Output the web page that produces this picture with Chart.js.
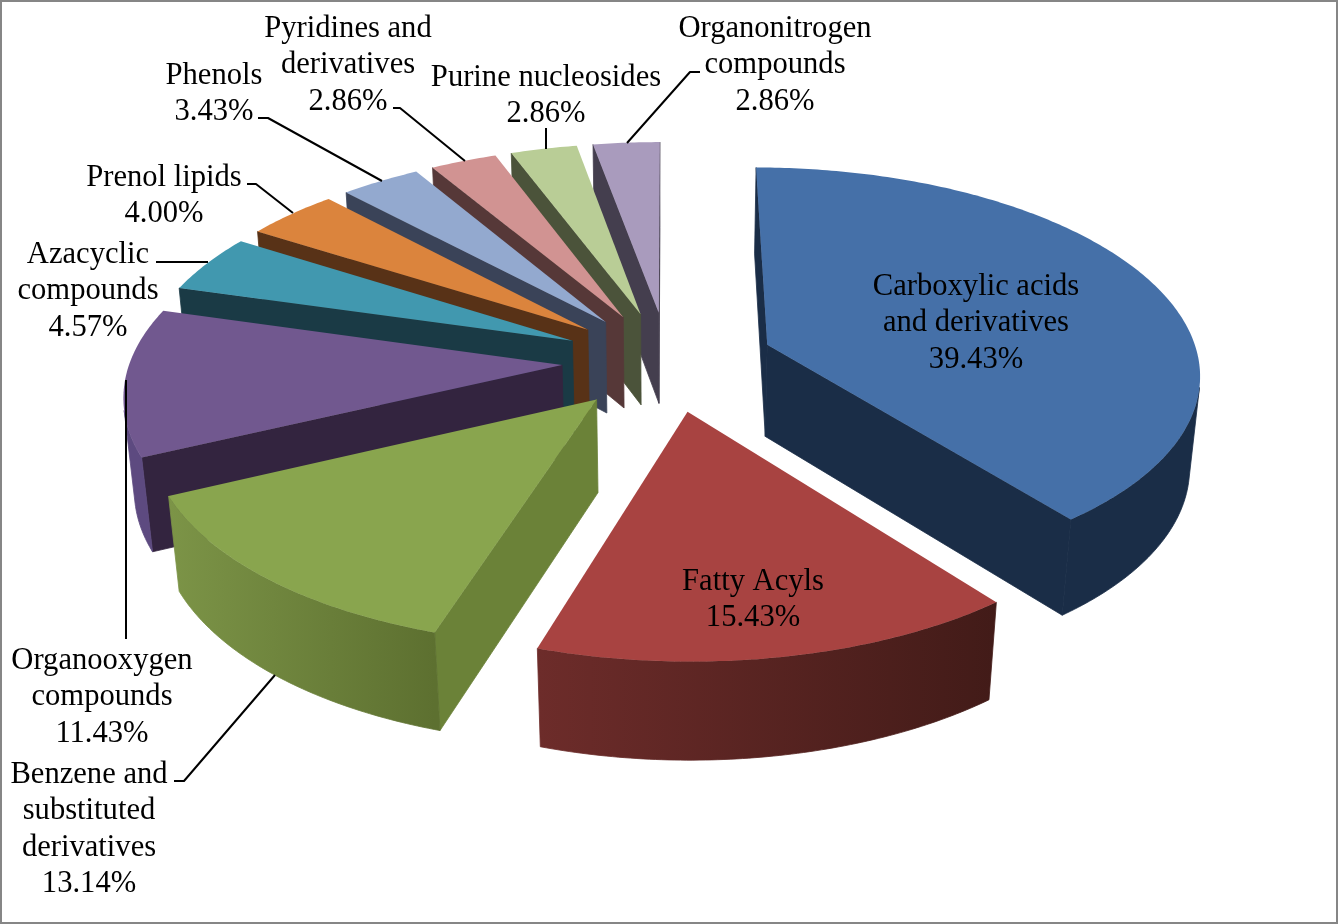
<!DOCTYPE html>
<html>
<head>
<meta charset="utf-8">
<style>
html,body{margin:0;padding:0;background:#fff;overflow:hidden}
canvas{display:block}
</style>
<script src="https://cdn.jsdelivr.net/npm/chart.js@4/dist/chart.umd.min.js"></script>
</head>
<body>
<canvas id="c" width="1338" height="924"></canvas>
<script>
const categories = ["Carboxylic acids and derivatives","Fatty Acyls","Benzene and substituted derivatives","Organooxygen compounds","Azacyclic compounds","Prenol lipids","Phenols","Pyridines and derivatives","Purine nucleosides","Organonitrogen compounds"];
const values = [39.43,15.43,13.14,11.43,4.57,4.00,3.43,2.86,2.86,2.86];
const topColors = ["#4570a8","#a84341","#89a54e","#71588f","#4198af","#db843d","#93a9cf","#d19392","#b9cd96","#a99bbd"];
const radialColors = ["#1a2d47","#431b19","#6b8238","#33243f","#1a3a45","#583217","#3a4358","#563838","#4b533a","#443e4e"];
const outerStart = ["#1a2d47","#421b18","#5d7030","#5d4a80","#1a3a45","#583217","#3a4358","#563838","#4b533a","#443e4e"];
const outerEnd = ["#1a2d47","#6d2c2a","#7c9447","#5d4a80","#1a3a45","#583217","#3a4358","#563838","#4b533a","#443e4e"];
const labelLines = [["Carboxylic acids","and derivatives"],["Fatty Acyls"],["Benzene and","substituted","derivatives"],["Organooxygen","compounds"],["Azacyclic","compounds"],["Prenol lipids"],["Phenols"],["Pyridines and","derivatives"],["Purine nucleosides"],["Organonitrogen","compounds"]];
const labelAnchors = [[976,295],[753,590],[89,783],[102,669],[88,263],[164,186],[214,84],[348,37],[546,86],[775,37]];
const leaders = [null,null,[[174,781],[184,781],[275,675]],[[126,380],[126,639]],[[156,262],[208,262]],[[247,184],[256,184],[293,213]],[[258,118],[268,118],[382,181]],[[393,108],[400,108],[465,161]],[[546,128],[546,149]],[[700,72],[690,72],[627,143]]];
const view = {cx:668, cy:361, A:432, B:203.8, p:0.1274, q:0.02, D:92, k:0.8};

function project(X,Y,Z){
  const w = 1 - view.p*Y + view.q*Z;
  return [view.cx + view.A*X/w, view.cy + view.B*Y/w + view.D*Z/Math.pow(1-view.p*Y,view.k)];
}
function area(pts){let s=0;pts.forEach((p,i)=>{const q=pts[(i+1)%pts.length];s+=p[0]*q[1]-q[0]*p[1];});return s/2;}
function poly(ctx,pts,fill,seal){
  ctx.beginPath();pts.forEach((p,i)=>i?ctx.lineTo(p[0],p[1]):ctx.moveTo(p[0],p[1]));ctx.closePath();
  ctx.fillStyle=fill;ctx.fill();
  if(seal){ctx.strokeStyle=fill;ctx.lineWidth=0.8;ctx.stroke();}
}
function drawSlice(ctx,arc,i){
  const s=arc.startAngle,e=arc.endAngle,m=(s+e)/2,off=arc.options.offset/arc.outerRadius;
  const ox=Math.cos(m)*off,oy=Math.sin(m)*off;
  const N=Math.max(16,Math.ceil((e-s)*80));
  const pt=(a,Z)=>project(ox+Math.cos(a),oy+Math.sin(a),Z);
  const T0=project(ox,oy,0),B0=project(ox,oy,1);
  const sw=[T0,pt(s,0),pt(s,1),B0];
  if(area(sw)<0)poly(ctx,sw,radialColors[i],true);
  const ew=[T0,pt(e,0),pt(e,1),B0];
  if(area(ew)>0)poly(ctx,ew,radialColors[i],true);
  let tops=[],bots=[];
  for(let k=0;k<N;k++){
    const a=s+(e-s)*k/N,b=s+(e-s)*(k+1)/N;
    if(area([pt(a,0),pt(b,0),pt(b,1),pt(a,1)])<0){
      if(!tops.length){tops.push(pt(a,0));bots.push(pt(a,1));}
      tops.push(pt(b,0));bots.push(pt(b,1));
    }
  }
  if(tops.length){
    const g=ctx.createLinearGradient(tops[0][0],0,tops[tops.length-1][0],0);
    g.addColorStop(0,outerStart[i]);g.addColorStop(1,outerEnd[i]);
    poly(ctx,tops.concat(bots.reverse()),g,true);
  }
  const top=[T0];
  for(let k=0;k<=N;k++)top.push(pt(s+(e-s)*k/N,0));
  poly(ctx,top,topColors[i],false);
}
const pie3d={
  id:"pie3d",
  beforeDatasetsDraw(chart){
    const ctx=chart.ctx,arcs=chart.getDatasetMeta(0).data;
    const order=arcs.map((a,i)=>i).sort((x,y)=>{
      const mx=(arcs[x].startAngle+arcs[x].endAngle)/2,my=(arcs[y].startAngle+arcs[y].endAngle)/2;
      return Math.sin(mx)-Math.sin(my);
    });
    ctx.save();
    order.forEach(i=>drawSlice(ctx,arcs[i],i));
    ctx.restore();
    return false;
  },
  afterDraw(chart){
    const ctx=chart.ctx;
    ctx.save();
    ctx.strokeStyle="#000";ctx.lineWidth=2;ctx.lineJoin="round";
    leaders.forEach(l=>{
      if(!l)return;
      ctx.beginPath();l.forEach((p,i)=>i?ctx.lineTo(p[0],p[1]):ctx.moveTo(p[0],p[1]));ctx.stroke();
    });
    ctx.fillStyle="#000";ctx.font='30.6px "Liberation Serif"';ctx.textAlign="center";ctx.textBaseline="alphabetic";
    labelLines.forEach((lines,i)=>{
      const all=lines.concat([values[i].toFixed(2)+"%"]);
      all.forEach((t,j)=>ctx.fillText(t,labelAnchors[i][0],labelAnchors[i][1]+j*36.4));
    });
    ctx.strokeStyle="#868686";ctx.lineWidth=4;
    ctx.strokeRect(0,0,1338,924);
    ctx.restore();
  }
};
new Chart(document.getElementById("c"),{
  type:"pie",
  data:{labels:categories,datasets:[{data:values,backgroundColor:topColors,borderWidth:0,offset:101}]},
  options:{responsive:false,animation:false,devicePixelRatio:1,layout:{padding:0},
    plugins:{legend:{display:false},tooltip:{enabled:false}}},
  plugins:[pie3d]
});
</script>
</body>
</html>
